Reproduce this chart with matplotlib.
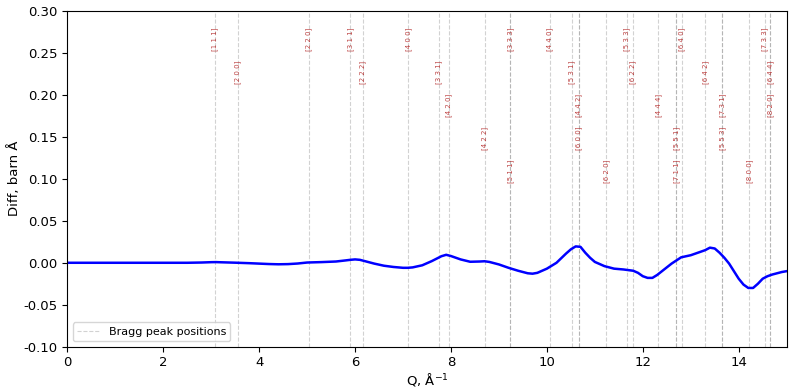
"""
Diff curve with Bragg peak positions (FCC reflections)
"""

import matplotlib
matplotlib.use("Agg")
import matplotlib.pyplot as plt

# ── DATA ────────────────────────────────────────────────────────────────
# difference curve
Q = [0.0, 0.5, 1.0, 1.5, 2.0, 2.5, 2.8, 3.0, 3.1, 3.2, 3.5, 3.8, 4.0, 4.2, 4.4,
     4.6, 4.8, 5.0, 5.3, 5.6, 5.8, 5.9, 6.0, 6.1, 6.2, 6.4, 6.6, 6.8, 7.0, 7.1,
     7.2, 7.4, 7.6, 7.8, 7.9, 8.0, 8.2, 8.4, 8.6, 8.7, 8.8, 9.0, 9.2, 9.4, 9.6,
     9.7, 9.8, 10.0, 10.2, 10.4, 10.5, 10.6, 10.7, 10.8, 10.9, 11.0, 11.2, 11.4,
     11.6, 11.8, 11.9, 12.0, 12.1, 12.2, 12.3, 12.4, 12.6, 12.8, 13.0, 13.2,
     13.3, 13.4, 13.5, 13.6, 13.7, 13.8, 13.9, 14.0, 14.1, 14.2, 14.3, 14.4,
     14.5, 14.6, 14.7, 14.8, 14.9, 15.0]
DIFF = [0.0, 0.0, 0.0, 0.0, 0.0, 0.0, 0.0003, 0.0007, 0.0008, 0.0006, 0.0001,
        -0.0005, -0.001, -0.0015, -0.0018, -0.0016, -0.0009, 0.0003, 0.0008,
        0.0015, 0.0028, 0.0035, 0.004, 0.0035, 0.002, -0.001, -0.0035, -0.005,
        -0.006, -0.006, -0.0055, -0.003, 0.002, 0.0078, 0.0095, 0.008, 0.004,
        0.0012, 0.0015, 0.0018, 0.001, -0.002, -0.006, -0.0095, -0.0125, -0.013,
        -0.012, -0.007, 0.0, 0.011, 0.016, 0.0195, 0.019, 0.012, 0.006, 0.001,
        -0.004, -0.007, -0.008, -0.0095, -0.012, -0.016, -0.018, -0.018, -0.0145,
        -0.010, -0.001, 0.0065, 0.009, 0.013, 0.015, 0.018, 0.017, 0.012, 0.006,
        -0.001, -0.010, -0.019, -0.026, -0.030, -0.030, -0.025, -0.019, -0.016,
        -0.014, -0.0125, -0.011, -0.010]

# Bragg reflections: label, Q position, label row
HKL = ["1 1 1", "2 0 0", "2 2 0", "3 1 1", "2 2 2", "4 0 0", "3 3 1", "4 2 0",
       "4 2 2", "3 3 3", "5 1 1", "4 4 0", "5 3 1", "4 4 2", "6 0 0", "6 2 0",
       "5 3 3", "6 2 2", "4 4 4", "5 5 1", "7 1 1", "6 4 0", "6 4 2", "7 3 1",
       "5 5 3", "8 0 0", "7 3 3", "6 4 4", "8 2 0"]
Q_BRAGG = [3.08, 3.56, 5.03, 5.90, 6.16, 7.11, 7.75, 7.95, 8.71, 9.24, 9.24,
           10.06, 10.52, 10.67, 10.67, 11.24, 11.66, 11.79, 12.32, 12.70, 12.70,
           12.82, 13.30, 13.66, 13.66, 14.22, 14.55, 14.66, 14.66]
ROW = [0, 1, 0, 0, 1, 0, 1, 2, 3, 0, 4, 0, 1, 2, 3, 4, 0, 1, 2, 3, 4, 0, 1, 2,
       3, 4, 0, 1, 2]

# ── PLOT ────────────────────────────────────────────────────────────────
fig, ax = plt.subplots(figsize=(7.93, 3.87), dpi=100)
fig.subplots_adjust(left=0.085, right=0.992, top=0.972, bottom=0.104)

for i, (lab, q, r) in enumerate(zip(HKL, Q_BRAGG, ROW)):
    ax.axvline(q, color="gray", linestyle="--", linewidth=0.8, alpha=0.35,
               label="Bragg peak positions" if i == 0 else None)
    ax.text(q, 0.266 - 0.0393 * r, f"[{lab}]", rotation=90, ha="center",
            va="center", fontsize=5, color="#b22222", alpha=0.85)

ax.plot(Q, DIFF, color="blue", linewidth=1.8)

ax.set_xlim(0, 15)
ax.set_ylim(-0.10, 0.30)
ax.set_xticks(range(0, 16, 2))
ax.set_yticks([-0.10, -0.05, 0.0, 0.05, 0.10, 0.15, 0.20, 0.25, 0.30])
ax.yaxis.set_major_formatter(plt.FormatStrFormatter("%.2f"))
ax.tick_params(labelsize=9.5)
ax.set_xlabel("Q, Å$^{-1}$", fontsize=9.5, labelpad=1)
ax.set_ylabel("Diff, barn Å", fontsize=9.5, labelpad=2)
ax.legend(loc="lower left", fontsize=8)

plt.savefig("out.png", dpi=100)
